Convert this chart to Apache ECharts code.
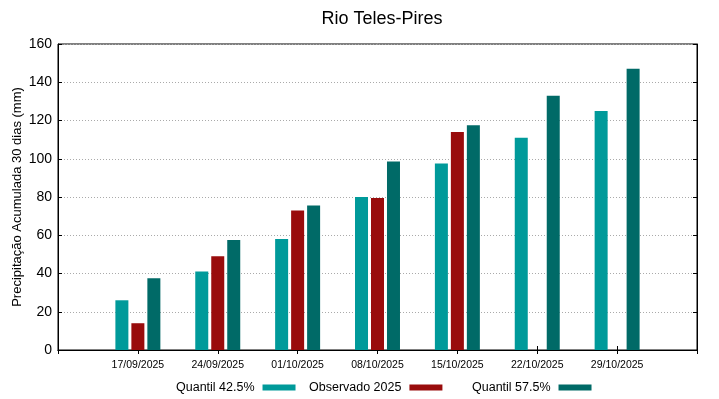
<!DOCTYPE html>
<html>
<head>
<meta charset="utf-8">
<script src="https://cdn.jsdelivr.net/npm/echarts@6/dist/echarts.min.js"></script>
<style>
  html, body { margin: 0; padding: 0; background: #fff; }
  #chart { width: 719px; height: 399px; }
</style>
</head>
<body>
<div id="chart"></div>
<script>
// Dates of each week (empty slots pad the axis on both sides, like gnuplot)
const dates = ['', '17/09/2025', '24/09/2025', '01/10/2025', '08/10/2025', '15/10/2025', '22/10/2025', '29/10/2025', ''];

// Accumulated 30-day precipitation (mm)
const quantil425 = [null, 26, 41, 58, 80, 97.5, 111, 125, null];
const observado2025 = [null, 14, 49, 73, 79.5, 114, null, null, null];
const quantil575 = [null, 37.5, 57.5, 75.5, 98.5, 117.5, 133, 147, null];

const yTicks = { min: 0, max: 160, interval: 20 };

const font = 'Liberation Sans, Arial, sans-serif';

function legendFor(name, left) {
    return {
        data: [name],
        left: left,
        top: 381,
        padding: 0,
        align: 'right',
        itemWidth: 33,
        itemHeight: 6,
        icon: 'rect',
        selectedMode: false,
        textStyle: { fontFamily: font, fontSize: 12.5, color: '#000', padding: [0, 3, 0, 0] }
    };
}

let option = {
    animation: false,
    backgroundColor: '#fff',
    title: {
        text: 'Rio Teles-Pires',
        left: 377,
        textAlign: 'center',
        top: 5,
        textStyle: { fontFamily: font, fontSize: 18, fontWeight: 'normal', color: '#000' }
    },
    legend: [
        legendFor('Quantil 42.5%', 176),
        legendFor('Observado 2025', 309),
        legendFor('Quantil 57.5%', 472)
    ],
    grid: {
        left: 58, right: 22, top: 44, bottom: 49,
        outerBoundsMode: 'none',
        containLabel: false,
        show: true, borderColor: '#000', borderWidth: 1, backgroundColor: 'transparent'
    },
    xAxis: [{
        type: 'category',
        data: dates,
        boundaryGap: false,
        axisLine: { lineStyle: { color: '#000' } },
        axisTick: { inside: true, length: 4, lineStyle: { color: '#000' } },
        axisLabel: { fontFamily: font, fontSize: 10.5, color: '#000', margin: 10 },
        splitLine: { show: false }
    }, {
        type: 'category',
        data: dates,
        position: 'top',
        boundaryGap: false,
        axisLine: { lineStyle: { color: '#000' } },
        axisTick: { inside: true, length: 4, lineStyle: { color: '#000' } },
        axisLabel: { show: false },
        splitLine: { show: false }
    }],
    yAxis: [{
        type: 'value',
        min: yTicks.min, max: yTicks.max, interval: yTicks.interval,
        name: 'Precipitação Acumulada 30 dias (mm)',
        nameLocation: 'middle',
        nameGap: 34,
        nameMoveOverlap: false,
        nameTextStyle: { fontFamily: font, fontSize: 13, color: '#000' },
        axisLine: { show: true, lineStyle: { color: '#000' } },
        axisTick: { show: true, inside: true, length: 4, lineStyle: { color: '#000' } },
        axisLabel: { fontFamily: font, fontSize: 14, color: '#000', margin: 6 },
        splitLine: { show: true, lineStyle: { color: '#aaa', type: [1, 2], width: 1 } }
    }, {
        type: 'value',
        position: 'right',
        min: yTicks.min, max: yTicks.max, interval: yTicks.interval,
        axisLine: { show: true, lineStyle: { color: '#000' } },
        axisTick: { show: true, inside: true, length: 4, lineStyle: { color: '#000' } },
        axisLabel: { show: false },
        splitLine: { show: false }
    }],
    series: [{
        name: 'Quantil 42.5%',
        type: 'bar',
        data: quantil425,
        barWidth: 13,
        barGap: '23%',
        itemStyle: { color: '#009a9a' }
    }, {
        name: 'Observado 2025',
        type: 'bar',
        data: observado2025,
        barWidth: 13,
        barGap: '23%',
        itemStyle: { color: '#990c0c' }
    }, {
        name: 'Quantil 57.5%',
        type: 'bar',
        data: quantil575,
        barWidth: 13,
        barGap: '23%',
        itemStyle: { color: '#006a67' }
    }]
};

let chart = echarts.init(document.getElementById('chart'));
chart.setOption(option);
</script>
</body>
</html>
